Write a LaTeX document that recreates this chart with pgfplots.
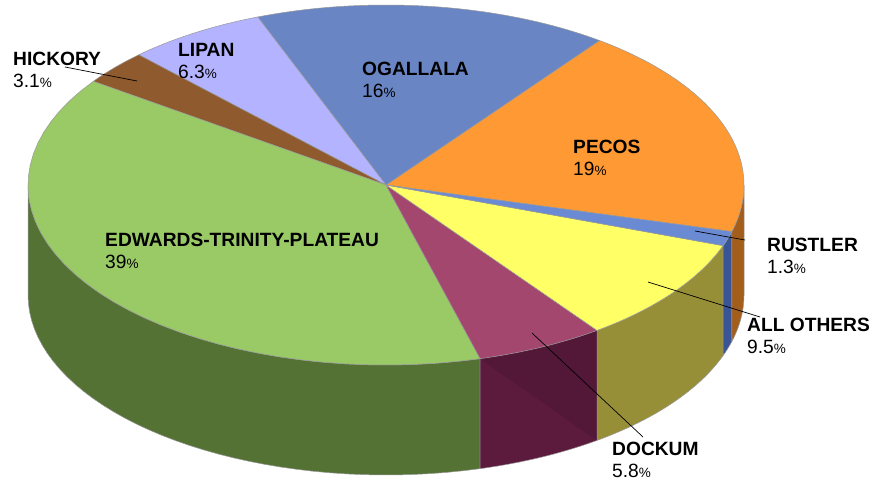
\documentclass[border=0pt]{standalone}
\usepackage{fontspec}
\setmainfont{Liberation Sans}
\usepackage{pgfplots}
\usepackage{pgfplotstable}
\pgfplotsset{compat=1.18}

\definecolor{cPecos}{HTML}{FF9933}
\definecolor{cPecosW}{HTML}{A35E1C}
\definecolor{cOga}{HTML}{6985C4}
\definecolor{cLipan}{HTML}{B3B3FF}
\definecolor{cHick}{HTML}{8F5A2D}
\definecolor{cEdw}{HTML}{99CA66}
\definecolor{cEdwW}{HTML}{557235}
\definecolor{cDock}{HTML}{A3476F}
\definecolor{cDockW}{HTML}{5C1A3C}
\definecolor{cDockW2}{HTML}{531737}
\definecolor{cOth}{HTML}{FFFF66}
\definecolor{cOthW}{HTML}{978F38}
\definecolor{cRus}{HTML}{6A8BD4}
\definecolor{cRusW}{HTML}{3A5596}

\pgfplotstableread{
name share
PECOS 19
OGALLALA 16
LIPAN 6.3
HICKORY 3.1
EDWARDS 39
DOCKUM 5.8
OTHERS 9.5
RUSTLER 1.3
}\piedata

\def\cx{386}\def\cy{298}\def\rx{358}\def\ry{180}\def\dep{110}
\newcommand\getshare[2]{\pgfplotstablegetelem{#1}{share}\of\piedata\pgfmathsetmacro#2{\pgfplotsretval}}%
\getshare{0}{\sA}\getshare{1}{\sB}\getshare{2}{\sC}\getshare{3}{\sD}%
\getshare{4}{\sE}\getshare{5}{\sF}\getshare{6}{\sG}\getshare{7}{\sH}%
\pgfmathsetmacro\aZ{-15}%
\pgfmathsetmacro\aA{\aZ+3.6*\sA}%
\pgfmathsetmacro\aB{\aA+3.6*\sB}%
\pgfmathsetmacro\aC{\aB+3.6*\sC}%
\pgfmathsetmacro\aD{\aC+3.6*\sD}%
\pgfmathsetmacro\aE{\aD+3.6*\sE}%
\pgfmathsetmacro\aF{\aE+3.6*\sF}%
\pgfmathsetmacro\aG{\aF+3.6*\sG}%
\pgfmathsetmacro\aH{\aG+3.6*\sH}%

\newcommand\topwedge[3]{\fill[#3, draw=black!40, line width=0.5pt, line join=round] (axis cs:\cx,\cy) -- plot[domain=#1:#2, samples=40, variable=\t] ({\cx+\rx*cos(\t)},{\cy+\ry*sin(\t)}) -- cycle;}
\newcommand\wall[3]{\fill[#3, draw=black!40, line width=0.5pt, line join=round] plot[domain=#1:#2, samples=40, variable=\t] ({\cx+\rx*cos(\t)},{\cy+\ry*sin(\t)}) -- plot[domain=#2:#1, samples=40, variable=\t] ({\cx+\rx*cos(\t)},{\cy-\dep+\ry*sin(\t)}) -- cycle;}

\newcommand\lab[4]{\node[anchor=north west, align=left, inner sep=0pt, font=\fontsize{19.2}{22}\selectfont] at (axis cs:#1,#2) {\textbf{#3}\\#4{\fontsize{13.5}{13.5}\selectfont\%}};}

\begin{document}
\begin{tikzpicture}
\begin{axis}[hide axis, scale only axis, width=870pt, height=483pt,
  xmin=0, xmax=870, ymin=0, ymax=483, clip=false]
\path (axis cs:0,0) rectangle (axis cs:870,483);
% side walls
\wall{180}{\aE}{cEdwW}
\wall{\aE}{\aF}{cDockW}
\fill[cDockW2] plot[domain=\aE:\aF, samples=30, variable=\t] ({\cx+\rx*cos(\t)},{\cy+\ry*sin(\t)}) -- ({\cx+\rx*cos(\aF)},{\cy-\dep+\ry*sin(\aF)}) -- cycle;
\wall{\aF}{\aG}{cOthW}
\wall{\aG}{\aH}{cRusW}
\wall{\aH}{360}{cPecosW}
% top faces
\topwedge{\aZ}{\aA}{cPecos}
\topwedge{\aA}{\aB}{cOga}
\topwedge{\aB}{\aC}{cLipan}
\topwedge{\aC}{\aD}{cHick}
\topwedge{\aD}{\aE}{cEdw}
\topwedge{\aE}{\aF}{cDock}
\topwedge{\aF}{\aG}{cOth}
\topwedge{\aG}{\aH}{cRus}
% leader lines
\draw[black, line width=0.7pt] (axis cs:65,416) -- (axis cs:137,402);
\draw[black, line width=0.7pt] (axis cs:695,252) -- (axis cs:745,243);
\draw[black, line width=0.7pt] (axis cs:648,201) -- (axis cs:760,166);
\draw[black, line width=0.7pt] (axis cs:532,150) -- (axis cs:643,46);
% labels
\lab{13}{431}{HICKORY}{3.1}
\lab{178}{440}{LIPAN}{6.3}
\lab{362}{421}{OGALLALA}{16}
\lab{573}{343}{PECOS}{19}
\lab{767}{245}{RUSTLER}{1.3}
\lab{747}{165}{ALL OTHERS}{9.5}
\lab{612}{41}{DOCKUM}{5.8}
\lab{105}{250}{EDWARDS-TRINITY-PLATEAU}{39}
\end{axis}
\end{tikzpicture}
\end{document}
